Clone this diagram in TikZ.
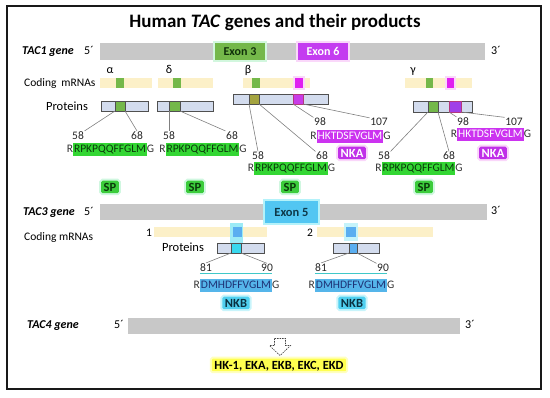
\documentclass[tikz,border=0pt]{standalone}
\usepackage{fontspec}
\setmainfont{Carlito}
\usetikzlibrary{calc}
\definecolor{barg}{HTML}{C8C8C8}
\definecolor{exgreen}{HTML}{74B84A}
\definecolor{exgtxt}{HTML}{10300A}
\definecolor{exghalo}{HTML}{D2F7DE}
\definecolor{exmag}{HTML}{C43CF0}
\definecolor{exmhalo}{HTML}{FAD8FA}
\definecolor{excyan}{HTML}{52C6F2}
\definecolor{exchalo}{HTML}{B4F2FA}
\definecolor{exctxt}{HTML}{0E3848}
\definecolor{mrnac}{HTML}{FCF0C8}
\definecolor{protc}{HTML}{D3DCEE}
\definecolor{pborder}{HTML}{505050}
\definecolor{olive}{HTML}{A4A440}
\definecolor{segmag}{HTML}{C83CE8}
\definecolor{segmag2}{HTML}{A040E8}
\definecolor{sqmag}{HTML}{E020F0}
\definecolor{seqgreen}{HTML}{33D633}
\definecolor{seqgtxt}{HTML}{0A3A0A}
\definecolor{seqmag}{HTML}{CC33F0}
\definecolor{seqblue}{HTML}{55B5EA}
\definecolor{seqbtxt}{HTML}{1E3275}
\definecolor{seqtxt}{HTML}{333333}
\definecolor{cyanline}{HTML}{40C8C8}
\definecolor{spfill}{HTML}{3CCC3C}
\definecolor{sptxt}{HTML}{0A3A0A}
\definecolor{sphalo}{HTML}{D0F7E0}
\definecolor{nkafill}{HTML}{C030E8}
\definecolor{nkahalo}{HTML}{FAD6FA}
\definecolor{nkbfill}{HTML}{50D0F0}
\definecolor{nkbtxt}{HTML}{0A3040}
\definecolor{nkbhalo}{HTML}{C8F4FB}
\definecolor{yel}{HTML}{FFFF50}
\definecolor{yelhalo}{HTML}{FFFFC0}
\definecolor{connc}{HTML}{808080}
\definecolor{bluesq}{HTML}{5AAEF0}
\definecolor{cyanseg}{HTML}{38D8EE}
\definecolor{glowc}{HTML}{9CEBF6}
\begin{document}
\begin{tikzpicture}[x=1pt,y=-1pt,
 lbl/.style={inner sep=0pt, font=\fontsize{11.5}{13}\selectfont},
 genelbl/.style={inner sep=0pt, anchor=base west, font=\fontsize{12}{14}\selectfont\bfseries\itshape},
 endlbl/.style={inner sep=0pt, anchor=base, font=\fontsize{12}{14}\selectfont},
 greek/.style={inner sep=0pt, anchor=base, font=\fontsize{12}{14}\selectfont},
 rect/.style={anchor=north west, inner sep=0pt, outer sep=0pt},
 bw/.style={minimum width=#1pt},
 bh/.style={minimum height=#1pt},
 genebar/.style={rect, fill=barg},
 exon/.style={rect, font=\fontsize{12}{14}\selectfont\bfseries},
 mrna/.style={rect, fill=mrnac, bh=10},
 sq/.style={rect, bh=10},
 prot/.style={rect, fill=protc, draw=pborder, line width=0.7pt, bh=10},
 seg/.style={rect, draw=pborder, line width=0.7pt, bh=10},
 num/.style={inner sep=0.5pt, anchor=base, font=\fontsize{11.5}{13}\selectfont, text=black!85},
 seq/.style={inner xsep=1pt, inner ysep=1.5pt, outer sep=0pt, text height=8pt, text depth=2pt, font=\fontsize{11.5}{13}\selectfont},
 seqend/.style={inner xsep=0pt, inner ysep=1.5pt, outer sep=0pt, text height=8pt, text depth=2pt, font=\fontsize{11.5}{13}\selectfont, text=seqtxt},
 pep/.style={rounded corners=1.5pt, inner xsep=2.5pt, inner ysep=1.5pt, text height=9pt, text depth=0.5pt, font=\fontsize{12.5}{14}\selectfont\bfseries},
 conn/.style={draw=connc, line width=0.6pt},
 halo/.style={preaction={draw=#1, line width=4pt}},
]
\useasboundingbox (0,0) rectangle (550,398);
\draw[line width=2.4pt, black!90] (7,6) rectangle (541,389);

\node[font=\fontsize{19}{22}\selectfont\bfseries, anchor=base, inner sep=0pt] (title) at (275,28) {Human \textit{TAC} genes and their products};

% ---------------- TAC1
\node[genebar, bw=385, bh=17] (gene1) at (100,43) {};
\node[exon, bw=50, bh=17, fill=exgreen, text=exgtxt, halo=exghalo] (exon3) at (215,43) {Exon 3};
\node[exon, bw=50, bh=17, fill=exmag, text=white, halo=exmhalo] (exon6) at (298,43) {Exon 6};
\node[genelbl] (tac1) at (22,55) {TAC1 gene};
\node[endlbl] (t1five) at (89,55) {5´};
\node[endlbl] (t1three) at (496,55) {3´};

\node[greek] (alpha) at (110,74) {α};
\node[greek] (delta) at (169,74) {δ};
\node[greek] (beta) at (248,74) {β};
\node[greek] (gamma) at (413,74) {γ};

\node[lbl, anchor=west] (cod1) at (24,83) {Coding\hspace{0.2em} mRNAs};
\node[mrna, bw=52] (mA) at (100,78) {};
\node[sq, bw=8, fill=exgreen] (mAg) at (116,78) {};
\node[mrna, bw=55] (mD) at (158,78) {};
\node[sq, bw=8, fill=exgreen] (mDg) at (173,78) {};
\node[mrna, bw=67] (mB) at (243,78) {};
\node[sq, bw=8, fill=exgreen] (mBg) at (252,78) {};
\node[sq, bw=8, fill=sqmag, halo=exmhalo] (mBm) at (295,78) {};
\node[mrna, bw=67] (mG) at (405,78) {};
\node[sq, bw=7, fill=exgreen] (mGg) at (426,78) {};
\node[sq, bw=7, fill=sqmag, halo=exmhalo] (mGm) at (447,78) {};

\node[lbl, font=\fontsize{12.5}{14}\selectfont] (prot1) at (67,106) {Proteins};
\node[prot, bw=47] (pA) at (101,101) {};
\node[seg, bw=10, fill=exgreen] (sA) at (115,101) {};
\node[prot, bw=56] (pD) at (157,101) {};
\node[seg, bw=11, fill=exgreen] (sD) at (169,101) {};
\node[prot, bw=95] (pB) at (233,94) {};
\node[seg, bw=10, fill=olive] (sB) at (249,94) {};
\node[seg, bw=10, fill=segmag, draw=magenta!70!black] (sBm) at (293,94) {};
\node[prot, bw=59, bh=11] (pG) at (413,101) {};
\node[seg, bw=10, bh=11, fill=exgreen] (sG) at (428,101) {};
\node[seg, bw=12, bh=11, fill=segmag2, draw=magenta!70!black] (sGm) at (449,101) {};

% alpha peptide
\node[num] (nA58) at (78,139.5) {58};
\node[num] (nA68) at (137,139.5) {68};
\node[seq, fill=seqgreen, text=seqgtxt] (sqA) at (110,150) {RPKPQQFFGLM};
\node[seqend, anchor=east] (sqAR) at (sqA.west) {R};
\node[seqend, anchor=west] (sqAG) at (sqA.east) {G};
\node[pep, fill=spfill, text=sptxt, halo=sphalo] (spA) at (110,187) {SP};
% delta peptide
\node[num] (nD58) at (169,139.5) {58};
\node[num] (nD68) at (232,139.5) {68};
\node[seq, fill=seqgreen, text=seqgtxt] (sqD) at (202.5,150) {RPKPQQFFGLM};
\node[seqend, anchor=east] (sqDR) at (sqD.west) {R};
\node[seqend, anchor=west] (sqDG) at (sqD.east) {G};
\node[pep, fill=spfill, text=sptxt, halo=sphalo] (spD) at (195,187) {SP};
% beta peptides
\node[num] (nB58) at (258,160) {58};
\node[num] (nB68) at (322,160) {68};
\node[seq, fill=seqgreen, text=seqgtxt] (sqB) at (291,168.5) {RPKPQQFFGLM};
\node[seqend, anchor=east] (sqBR) at (sqB.west) {R};
\node[seqend, anchor=west] (sqBG) at (sqB.east) {G};
\node[pep, fill=spfill, text=sptxt, halo=sphalo] (spB) at (290,187) {SP};
\node[num] (nB98) at (320,126) {98};
\node[num] (nB107) at (379,126) {107};
\node[seq, fill=seqmag, text=white] (kB) at (350,136.5) {HKTDSFVGLM};
\node[seqend, anchor=east] (kBR) at (kB.west) {R};
\node[seqend, anchor=west] (kBG) at (kB.east) {G};
\node[pep, fill=nkafill, text=white, halo=nkahalo] (nkaB) at (352,153) {NKA};
% gamma peptides
\node[num] (nG58) at (384,160) {58};
\node[num] (nG68) at (449,160) {68};
\node[seq, fill=seqgreen, text=seqgtxt] (sqG) at (418.5,168.5) {RPKPQQFFGLM};
\node[seqend, anchor=east] (sqGR) at (sqG.west) {R};
\node[seqend, anchor=west] (sqGG) at (sqG.east) {G};
\node[pep, fill=spfill, text=sptxt, halo=sphalo] (spG) at (424,187) {SP};
\node[num] (nG98) at (463,125.5) {98};
\node[num] (nG107) at (514,125.5) {107};
\node[seq, fill=seqmag, text=white] (kG) at (490.5,134.5) {HKTDSFVGLM};
\node[seqend, anchor=east] (kGR) at (kG.west) {R};
\node[seqend, anchor=west] (kGG) at (kG.east) {G};
\node[pep, fill=nkafill, text=white, halo=nkahalo] (nkaG) at (493,153) {NKA};

% connectors TAC1
\draw[conn] (sA.south west) -- (nA58.north east);
\draw[conn] (sA.south east) -- (nA68.north);
\draw[conn] (sD.south west) -- (nD58.north);
\draw[conn] (sD.south east) -- (nD68.north west);
\draw[conn] (sB.south west) -- (nB58.north);
\draw[conn] (sB.south east) -- (nB68.north west);
\draw[conn] (sBm.south west) -- (nB98.north west);
\draw[conn] (sBm.south east) -- (nB107.north west);
\draw[conn] (sG.south west) -- (nG58.north east);
\draw[conn] (sG.south east) -- (nG68.north);
\draw[conn] (sGm.south west) -- (nG98.north west);
\draw[conn] (sGm.south east) -- (nG107.north west);

% ---------------- TAC3
\node[genebar, bw=387, bh=16] (gene3) at (100,204) {};
\node[exon, bw=53, bh=22, fill=excyan, text=exctxt, halo=exchalo, font=\fontsize{12.5}{14}\selectfont\bfseries] (exon5) at (265,201) {Exon 5};
\node[genelbl] (tac3) at (23,216) {TAC3 gene};
\node[endlbl] (t3five) at (89,216) {5´};
\node[endlbl] (t3three) at (496,215) {3´};

\node[lbl, anchor=west] (cod3) at (24,237) {Coding mRNAs};
\node[lbl, anchor=base] (iso1) at (149,236.5) {1};
\node[lbl, anchor=base] (iso2) at (310,236.5) {2};
\node[mrna, bw=113] (m1) at (154,227) {};
\node[mrna, bw=116] (m2) at (317,227) {};
\fill[glowc] (230,223) rectangle (243,254);
\fill[glowc!60] (344,223) rectangle (358,241);
\node[sq, bw=9, fill=bluesq] (m1b) at (233,227) {};
\node[sq, bw=10, fill=bluesq] (m2b) at (346,227) {};

\node[lbl, font=\fontsize{12.5}{14}\selectfont] (prot3) at (183,247) {Proteins};
\node[prot, bw=47] (p1) at (217,243) {};
\node[seg, bw=10, fill=cyanseg] (s1) at (231,243) {};
\node[prot, bw=46] (p2) at (333,243) {};
\node[seg, bw=8, fill=bluesq] (s2) at (349,243) {};

\node[num] (n81a) at (206,271.5) {81};
\node[num] (n90a) at (267,271.5) {90};
\node[num] (n81b) at (321,271.5) {81};
\node[num] (n90b) at (383,271.5) {90};
\node[seq, fill=seqblue, text=seqbtxt] (nB1) at (236,286) {DMHDFFVGLM};
\node[seqend, anchor=east] (nB1R) at (nB1.west) {R};
\node[seqend, anchor=west] (nB1G) at (nB1.east) {G};
\node[seq, fill=seqblue, text=seqbtxt] (nB2) at (351,286) {DMHDFFVGLM};
\node[seqend, anchor=east] (nB2R) at (nB2.west) {R};
\node[seqend, anchor=west] (nB2G) at (nB2.east) {G};
\draw[cyanline, line width=0.8pt] ([yshift=6.5pt]nB1.north west) -- ([yshift=6.5pt]nB1.north east);
\draw[cyanline, line width=0.8pt] ([yshift=6.5pt]nB2.north west) -- ([yshift=6.5pt]nB2.north east);
\node[pep, fill=nkbfill, text=nkbtxt, halo=nkbhalo] (nkb1) at (236,303) {NKB};
\node[pep, fill=nkbfill, text=nkbtxt, halo=nkbhalo] (nkb2) at (352,303) {NKB};

\draw[conn] (s1.south west) -- (n81a.north);
\draw[conn] (s1.south east) -- (n90a.north);
\draw[conn] (s2.south west) -- (n81b.north);
\draw[conn] (s2.south east) -- (n90b.north west);

% ---------------- TAC4
\node[genelbl] (tac4) at (27,329) {TAC4 gene};
\node[endlbl] (t4five) at (119,329) {5´};
\node[genebar, bw=332, bh=16] (gene4) at (128,318) {};
\node[endlbl] (t4three) at (470,329) {3´};
\node[pep, fill=yel, text=black, halo=yelhalo, rounded corners=1pt] (hk) at (279,365) {HK-1, EKA, EKB, EKC, EKD};
\coordinate (arrtop) at ($(hk.north)+(1,-20)$);
\draw[dash pattern=on 1.5pt off 1pt, draw=black!75, fill=white, line width=0.6pt]
  (arrtop) ++(-5.5,0) -- ++(11,0) -- ++(0,7) -- ++(5,0) -- ++(-10.5,10) -- ++(-10.5,-10) -- ++(5,0) -- cycle;
\end{tikzpicture}
\end{document}
